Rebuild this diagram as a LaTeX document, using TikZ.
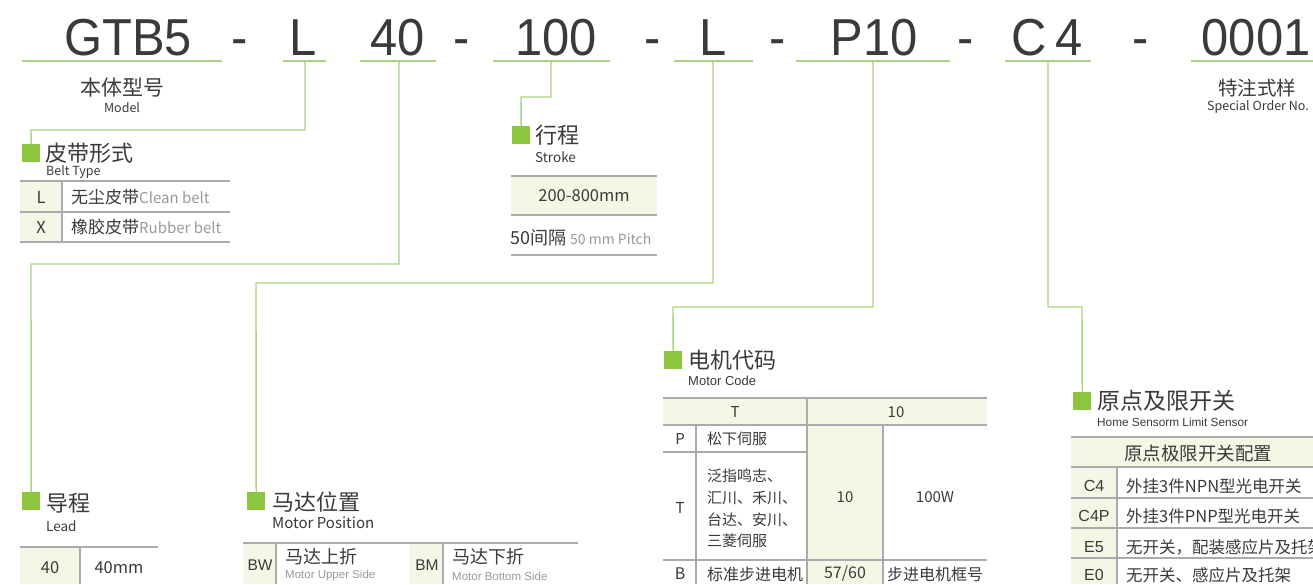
\documentclass[tikz,border=0pt]{standalone}
\usepackage{fontspec}
\setmainfont{Noto Sans CJK SC}
\newfontfamily\codefont{Liberation Sans}
\newfontfamily\lsans{Liberation Sans}
\definecolor{lg}{HTML}{A9D37F}
\definecolor{sqg}{HTML}{8CC63E}
\definecolor{bgc}{HTML}{F4F6E6}
\definecolor{gridc}{HTML}{ABABAB}
\definecolor{txt}{HTML}{3A3A3A}
\definecolor{gtx}{HTML}{9A9A9A}
\begin{document}
\begin{tikzpicture}[x=1pt,y=-1pt,
  code/.style={font=\codefont\fontsize{52}{52}\selectfont, text=txt, inner sep=0, anchor=base, xscale=0.94},
  uline/.style={draw=lg, line width=1.6pt},
  conn/.style={draw=lg, line width=1.4pt},
  sq/.style={fill=sqg, minimum size=18pt, inner sep=0, anchor=north west},
  ttl/.style={font=\fontsize{22}{22}\selectfont, text=txt, anchor=west, inner sep=0},
  sub/.style={font=\fontsize{13.5}{13.5}\selectfont, text=txt, anchor=west, inner sep=0},
  subn/.style={font=\lsans\fontsize{13}{13}\selectfont, text=txt, anchor=west, inner sep=0},
  cell/.style={font=\fontsize{15}{15}\selectfont, text=txt, inner sep=0},
  cellw/.style={cell, anchor=west},
  big/.style={font=\fontsize{16.5}{16.5}\selectfont},
  gsm/.style={font=\fontsize{12.5}{12.5}\selectfont, text=gtx, inner sep=0},
  grid/.style={draw=gridc, line width=1.2pt},
  bg/.style={fill=bgc}]
\useasboundingbox (0,0) rectangle (1313,584);
\fill[white] (0,0) rectangle (1313,584);

% ---------- top code ----------
\node[code] (gtb) at (128,55) {GTB5};
\node[code] (d1) at (240,55) {-};
\node[code] (cl) at (303,55) {L};
\node[code] (c40) at (398,55) {40};
\node[code] (d2) at (462,55) {-};
\node[code] (c100) at (556,55) {100};
\node[code] (d3) at (653,55) {-};
\node[code] (cl2) at (713,55) {L};
\node[code] (d4) at (778,55) {-};
\node[code] (cp10) at (874,55) {P10};
\node[code] (d5) at (966,55) {-};
\node[code] (cc4) at (1047,55) {C\,4};
\node[code] (d6) at (1141,55) {-};
\node[code] (c0001) at (1256,55) {0001};

% underlines
\coordinate (u1a) at (22,61);   \coordinate (u1b) at (222,61);
\coordinate (u2a) at (283,61);  \coordinate (u2b) at (326,61);
\coordinate (u3a) at (360,61);  \coordinate (u3b) at (436,61);
\coordinate (u4a) at (493,61);  \coordinate (u4b) at (610,61);
\coordinate (u5a) at (674,61);  \coordinate (u5b) at (753,61);
\coordinate (u6a) at (796,61);  \coordinate (u6b) at (950,61);
\coordinate (u7a) at (1005,61); \coordinate (u7b) at (1091,61);
\coordinate (u8a) at (1191,61); \coordinate (u8b) at (1313,61);
\foreach \a/\b in {u1a/u1b,u2a/u2b,u3a/u3b,u4a/u4b,u5a/u5b,u6a/u6b,u7a/u7b,u8a/u8b}
  \draw[uline] (\a) -- (\b);

% model / special
\node[font=\fontsize{21}{21}\selectfont, text=txt, inner sep=0] (mcn) at (122,88) {本体型号};
\node[font=\fontsize{12.5}{12.5}\selectfont, text=txt, inner sep=0] (men) at (122,108) {Model};
\node[font=\fontsize{19.5}{19.5}\selectfont, text=txt, inner sep=0] (scn) at (1257,88) {特注式样};
\node[font=\fontsize{12.5}{12.5}\selectfont, text=txt, inner sep=0] (sen) at (1258,107) {Special Order No.};

% ---------- connectors + squares ----------
\coordinate (k2) at (305,61);
\coordinate (k3) at (399,61);
\coordinate (k4) at (551,61);
\coordinate (k5) at (713,61);
\coordinate (k6) at (873,61);
\coordinate (k7) at (1048,61);

\node[sq] (sqB) at (22,144) {};
\node[sq] (sqL) at (22,492) {};
\node[sq] (sqS) at (512,126) {};
\node[sq] (sqM) at (247,492) {};
\node[sq] (sqC) at (664,351) {};
\node[sq] (sqH) at (1073,392) {};

\draw[conn] (k2) |- (31,130) -- (sqB.north);
\draw[conn] (k3) |- (31,264) -- (sqL.north);
\draw[conn] (k4) |- (521,97) -- (sqS.north);
\draw[conn] (k5) |- (256,283) -- (sqM.north);
\draw[conn] (k6) |- (673,307) -- (sqC.north);
\draw[conn] (k7) |- (1082,307) -- (sqH.north);

% ---------- Belt type ----------
\node[ttl] (tB) at (45,153) {皮带形式};
\node[sub, font=\fontsize{12.5}{12.5}\selectfont] (eB) at (46,172) {Belt Type};
\fill[bg] (20,181) rectangle (62,242);
\draw[grid] (20,181) -- (230,181) (20,212) -- (230,212) (20,242) -- (230,242) (62,181) -- (62,242);
\node[cell, big] (bL) at (41,197) {L};
\node[cell, big] (bX) at (41,227) {X};
\node[cellw, font=\fontsize{17}{17}\selectfont] (bLt) at (71,197) {无尘皮带{\color{gtx}\fontsize{15}{15}\selectfont Clean belt}};
\node[cellw, font=\fontsize{17}{17}\selectfont] (bXt) at (71,227) {橡胶皮带{\color{gtx}\fontsize{15}{15}\selectfont Rubber belt}};

% ---------- Stroke ----------
\node[ttl] (tS) at (535,135) {行程};
\node[sub] (eS) at (535,157) {Stroke};
\fill[bg] (511,176) rectangle (657,215);
\draw[grid] (511,176) -- (657,176) (511,215) -- (657,215) (511,255) -- (657,255);
\node[cell, font=\fontsize{16.5}{16.5}\selectfont] (s1) at (584,196) {200-800mm};
\node[cellw] (s2) at (510,238) {\fontsize{18}{18}\selectfont 50间隔 {\color{gtx}\fontsize{14}{14}\selectfont 50 mm Pitch}};

% ---------- Lead ----------
\node[ttl] (tL) at (46,503) {导程};
\node[sub] (eL) at (46,526) {Lead};
\fill[bg] (20,547) rectangle (80,584);
\draw[grid] (20,547) -- (158,547) (80,547) -- (80,584);
\node[cell, big] (l1) at (50,568) {40};
\node[cell, big] (l2) at (119,568) {40mm};

% ---------- Motor position ----------
\node[ttl] (tM) at (272,502) {马达位置};
\node[sub, font=\fontsize{15}{15}\selectfont] (eM) at (272,523) {Motor Position};
\fill[bg] (243,543) rectangle (276,584);
\fill[bg] (410,543) rectangle (443,584);
\draw[grid] (243,543) -- (578,543) (276,543) -- (276,584) (443,543) -- (443,584);
\node[cell, font=\lsans\fontsize{15.5}{15.5}\selectfont] (mBW) at (260,565) {BW};
\node[cell, font=\lsans\fontsize{15.5}{15.5}\selectfont] (mBM) at (427,565) {BM};
\node[cellw, font=\fontsize{18}{18}\selectfont] (mU) at (285,557) {马达上折};
\node[gsm, anchor=west, font=\lsans\fontsize{11.5}{11.5}\selectfont] (mUe) at (285,576) {Motor Upper Side};
\node[cellw, font=\fontsize{18}{18}\selectfont] (mD) at (452,557) {马达下折};
\node[gsm, anchor=west, font=\lsans\fontsize{11.5}{11.5}\selectfont] (mDe) at (452,576) {Motor Bottom Side};

% ---------- Motor code ----------
\node[ttl] (tC) at (688,360) {电机代码};
\node[subn] (eC) at (688,381) {Motor Code};
\fill[bg] (663,398) rectangle (987,425);
\fill[bg] (807,425) rectangle (883,584);
\draw[grid] (663,398) -- (987,398) (663,425) -- (987,425) (663,452) -- (807,452)
  (663,560) -- (987,560) (807,398) -- (807,584) (696,425) -- (696,584) (883,425) -- (883,584);
\node[cell] (hT) at (735,412) {T};
\node[cell] (h10) at (896,412) {10};
\node[cell] (rP) at (680,439) {P};
\node[cellw] (rPt) at (707,439) {松下伺服};
\node[cell] (rT) at (680,508) {T};
\node[cellw] (rT1) at (707,476) {泛指鸣志、};
\node[cellw] (rT2) at (707,498) {汇川、禾川、};
\node[cellw] (rT3) at (707,520) {台达、安川、};
\node[cellw] (rT4) at (707,541) {三菱伺服};
\node[cell] (r10) at (845,497) {10};
\node[cell] (r100) at (935,497) {100W};
\node[cell, font=\fontsize{16}{16}\selectfont] (rB) at (680,574) {B};
\node[cellw, font=\fontsize{16}{16}\selectfont] (rBt) at (707,574) {标准步进电机};
\node[cell, font=\fontsize{16}{16}\selectfont] (rB2) at (845,574) {57/60};
\node[cell, font=\fontsize{16}{16}\selectfont] (rB3) at (935,574) {步进电机框号};

% ---------- Home sensor ----------
\node[ttl, font=\fontsize{23}{23}\selectfont] (tH) at (1097,401) {原点及限开关};
\node[subn, font=\lsans\fontsize{11.8}{11.8}\selectfont] (eH) at (1097,422) {Home Sensorm Limit Sensor};
\fill[bg] (1071,437) rectangle (1313,467);
\fill[bg] (1071,467) rectangle (1117,584);
\draw[grid] (1071,437) -- (1313,437) (1071,467) -- (1313,467) (1071,498) -- (1313,498)
  (1071,528) -- (1313,528) (1071,558) -- (1313,558) (1117,467) -- (1117,584);
\node[cell, font=\fontsize{18.5}{18.5}\selectfont] (hh) at (1198,453) {原点极限开关配置};
\node[cell, font=\lsans\fontsize{16}{16}\selectfont] (hc1) at (1094,486) {C4};
\node[cell, font=\lsans\fontsize{16}{16}\selectfont] (hc2) at (1094,516) {C4P};
\node[cell, font=\lsans\fontsize{16}{16}\selectfont] (hc3) at (1094,547) {E5};
\node[cell, font=\lsans\fontsize{16}{16}\selectfont] (hc4) at (1094,575) {E0};
\node[cellw, font=\fontsize{16.5}{16.5}\selectfont] (ht1) at (1126,486) {外挂3件NPN型光电开关};
\node[cellw, font=\fontsize{16.5}{16.5}\selectfont] (ht2) at (1126,516) {外挂3件PNP型光电开关};
\node[cellw, font=\fontsize{16.5}{16.5}\selectfont] (ht3) at (1126,547) {无开关，配装感应片及托架};
\node[cellw, font=\fontsize{16.5}{16.5}\selectfont] (ht4) at (1126,575) {无开关、感应片及托架};
\end{tikzpicture}
\end{document}
